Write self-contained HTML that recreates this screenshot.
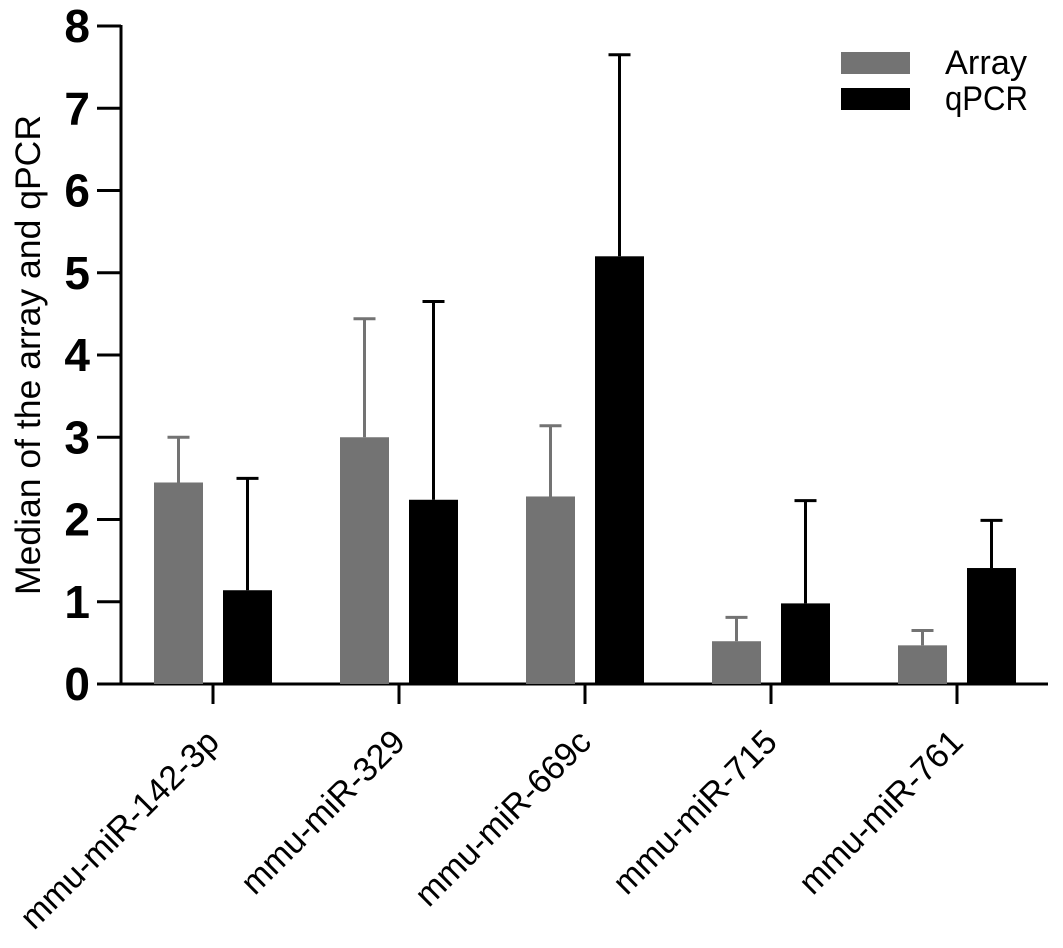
<!DOCTYPE html>
<html><head><meta charset="utf-8"><style>
html,body{margin:0;padding:0;background:#fff;}
svg{display:block;font-family:"Liberation Sans",Arial,sans-serif;}
</style></head><body>
<svg id="chart" width="1063" height="948" viewBox="0 0 1063 948">
<g id="axes"></g>
<g id="bars"></g>
<text transform="translate(40,355) rotate(-90)" text-anchor="middle" font-size="35" fill="#000" textLength="480" lengthAdjust="spacingAndGlyphs">Median of the array and qPCR</text>
<g>
<rect x="841" y="52" width="69" height="22" fill="#737373"/>
<text x="945" y="74" font-size="34" textLength="82" lengthAdjust="spacingAndGlyphs">Array</text>
<rect x="841" y="88" width="69" height="22" fill="#000"/>
<text x="945" y="110" font-size="34" textLength="83" lengthAdjust="spacingAndGlyphs">qPCR</text>
</g>
</svg>
<script>
const categories = ["mmu-miR-142-3p","mmu-miR-329","mmu-miR-669c","mmu-miR-715","mmu-miR-761"];
const arrayValues = [2.45, 3.0, 2.28, 0.52, 0.47];
const arrayErrTop = [3.0, 4.44, 3.14, 0.81, 0.65];
const qpcrValues = [1.14, 2.24, 5.2, 0.98, 1.41];
const qpcrErrTop = [2.5, 4.65, 7.65, 2.23, 1.99];
const yTicks = [0,1,2,3,4,5,6,7,8];

const NS = "http://www.w3.org/2000/svg";
const y0 = 684, yTop = 26, yMax = 8;
const yScale = v => y0 - v * (y0 - yTop) / yMax;
const groupCenter = i => 213 + i * 186;
const barW = 49;

function mk(tag, attrs, parent) {
  const e = document.createElementNS(NS, tag);
  for (const k in attrs) e.setAttribute(k, attrs[k]);
  parent.appendChild(e);
  return e;
}
const axes = document.getElementById('axes');
const bars = document.getElementById('bars');

let yl = mk('line', {x1:121, y1:yTop-1, x2:121, y2:y0+1.5, stroke:'#000', 'stroke-width':3}, axes);


yTicks.forEach(t => {
  const y = yScale(t);
  const tk = mk('line', {x1:97, y1:y, x2:121, y2:y, stroke:'#000', 'stroke-width':3}, axes);
  
  
  const lb = mk('text', {x:90, y:y+16, 'text-anchor':'end', 'font-size':46, 'font-weight':'bold'}, axes);
  
  
  lb.textContent = t;
});
let xl = mk('line', {x1:119.5, y1:y0, x2:1048, y2:y0, stroke:'#000', 'stroke-width':3}, axes);


categories.forEach((c, i) => {
  const x = groupCenter(i);
  const tk = mk('line', {x1:x, y1:y0, x2:x, y2:704, stroke:'#000', 'stroke-width':3}, axes);
  
  
  const lb = mk('text', {transform:`translate(${x+8},${744}) rotate(-45)`, 'text-anchor':'end', 'font-size':34}, axes);
  
  
  lb.textContent = c;
});

function drawBar(val, err, xLeft, color, name) {
  const cx = xLeft + barW / 2;
  const eb = mk('line', {x1:cx, y1:yScale(err), x2:cx, y2:yScale(val), stroke:color, 'stroke-width':3}, bars);
  
  
  const cap = mk('line', {x1:cx-11, y1:yScale(err), x2:cx+11, y2:yScale(err), stroke:color, 'stroke-width':3}, bars);
  
  
  const r = mk('rect', {x:xLeft, y:yScale(val), width:barW, height:y0 - yScale(val), fill:color}, bars);
  
  
}
categories.forEach((c, i) => {
  const x = groupCenter(i);
  drawBar(arrayValues[i], arrayErrTop[i], x - 59, '#737373', 'array');
  drawBar(qpcrValues[i], qpcrErrTop[i], x + 10, '#000', 'qpcr');
});
</script>
</body></html>
